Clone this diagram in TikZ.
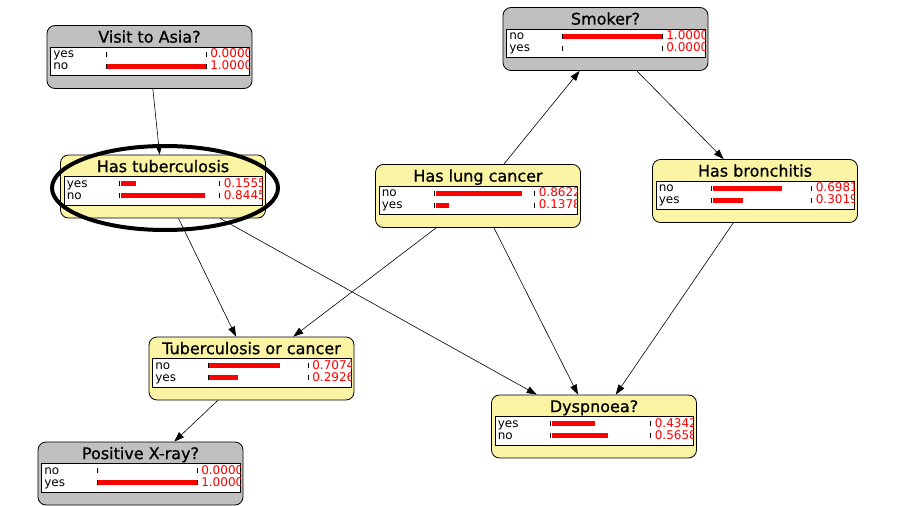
\documentclass[tikz,border=0pt]{standalone}
\usepackage{fontspec}
\setmainfont{DejaVu Sans}
\newfontfamily\netfont{DejaVu Sans}[FakeBold=0.8]
\usepackage{tikz}
\usetikzlibrary{positioning}
\usetikzlibrary{arrows.meta}
\definecolor{obsgray}{RGB}{192,192,192}
\definecolor{cptyellow}{RGB}{250,244,164}

\tikzset{
    netbox/.style = {draw=black, rounded corners=8pt, minimum width=205pt, minimum height=63pt, inner sep=0pt, line width=0.8pt},
    nettitle/.style = {font=\netfont\fontsize{16}{18}\selectfont, inner sep=0pt, anchor=base},
    cpttable/.style = {draw=black, fill=white, minimum width=198.5pt, minimum height=28.5pt, inner sep=0pt, line width=0.8pt, anchor=north west},
    statetext/.style = {font=\fontsize{12}{13}\selectfont, inner sep=0pt, anchor=base west},
    probtext/.style = {statetext, text=red},
    tick/.style = {line width=1pt},
    link/.style = {-{Triangle[length=10pt,width=7pt]}, line width=0.6pt},
}

% one row of a table: node, row name, row offset, state, probability
\newcommand{\cptrow}[5]{%
    \coordinate (#1#2) at ([yshift=-#3pt]#1Table.north west);
    \node[statetext] at ([shift={(3pt,-3.5pt)}]#1#2) {#4};
    \draw[tick] ([shift={(56pt,-2.5pt)}]#1#2) -- ++(0pt,5pt);
    \fill[red] ([shift={(57pt,-2.5pt)}]#1#2) rectangle ++(#5*100pt,5pt);
    \draw[tick] ([shift={(156pt,-2.5pt)}]#1#2) -- ++(0pt,5pt);
    \node[probtext] at ([shift={(160pt,-3.5pt)}]#1#2) {#5};
}

% title and table of a node: node, title, state 1, p 1, state 2, p 2
\newcommand{\cpt}[6]{%
    \node[nettitle] (#1Title) at ([yshift=-17.5pt]#1.north) {#2};
    \node[cpttable] (#1Table) at ([shift={(3.5pt,-21.5pt)}]#1.north west) {};
    \begin{scope}
        \clip (#1Table.south west) rectangle (#1Table.north east);
        \cptrow{#1}{RowA}{7.5}{#3}{#4}
        \cptrow{#1}{RowB}{19.5}{#5}{#6}
    \end{scope}
}

\begin{document}
\begin{tikzpicture}[x=1pt, y=-1pt]
    \useasboundingbox (0,0) rectangle (906,506);

    %Vertices
    \node[netbox, fill=obsgray] (Asia) at (149.5,57) {};
    \node[netbox, fill=cptyellow] (Tuberculosis) at (163,186.5) {};
    \node[netbox, fill=obsgray] (Smoker) at (605.5,39) {};
    \node[netbox, fill=cptyellow] (LungCancer) at (478,196) {};
    \node[netbox, fill=cptyellow] (Bronchitis) at (755,191) {};
    \node[netbox, fill=cptyellow] (TubOrCancer) at (251.5,368.5) {};
    \node[netbox, fill=obsgray] (XRay) at (140.5,473.5) {};
    \node[netbox, fill=cptyellow] (Dyspnoea) at (594,426.5) {};

    %Tables
    \cpt{Asia}{Visit to Asia?}{yes}{0.0000}{no}{1.0000}
    \cpt{Tuberculosis}{Has tuberculosis}{yes}{0.1555}{no}{0.8445}
    \cpt{Smoker}{Smoker?}{no}{1.0000}{yes}{0.0000}
    \cpt{LungCancer}{Has lung cancer}{no}{0.8622}{yes}{0.1378}
    \cpt{Bronchitis}{Has bronchitis}{no}{0.6981}{yes}{0.3019}
    \cpt{TubOrCancer}{Tuberculosis or cancer}{no}{0.7074}{yes}{0.2926}
    \cpt{XRay}{Positive X-ray?}{no}{0.0000}{yes}{1.0000}
    \cpt{Dyspnoea}{Dyspnoea?}{yes}{0.4342}{no}{0.5658}

    %Diagram
    \draw[link] (Asia) -- (Tuberculosis);
    \draw[link] (LungCancer) -- (Smoker);
    \draw[link] (Smoker) -- (Bronchitis);
    \draw[link] (Tuberculosis) -- (TubOrCancer);
    \draw[link] (LungCancer) -- (TubOrCancer);
    \draw[link] (Tuberculosis) -- (Dyspnoea);
    \draw[link] (LungCancer) -- (Dyspnoea);
    \draw[link] (Bronchitis) -- (Dyspnoea);
    \draw[link] (TubOrCancer) -- (XRay);

    %Highlight
    \draw[line width=4pt] ([shift={(2pt,-1.5pt)}]Tuberculosis.center) ellipse [x radius=113pt, y radius=42pt];

\end{tikzpicture}
\end{document}
